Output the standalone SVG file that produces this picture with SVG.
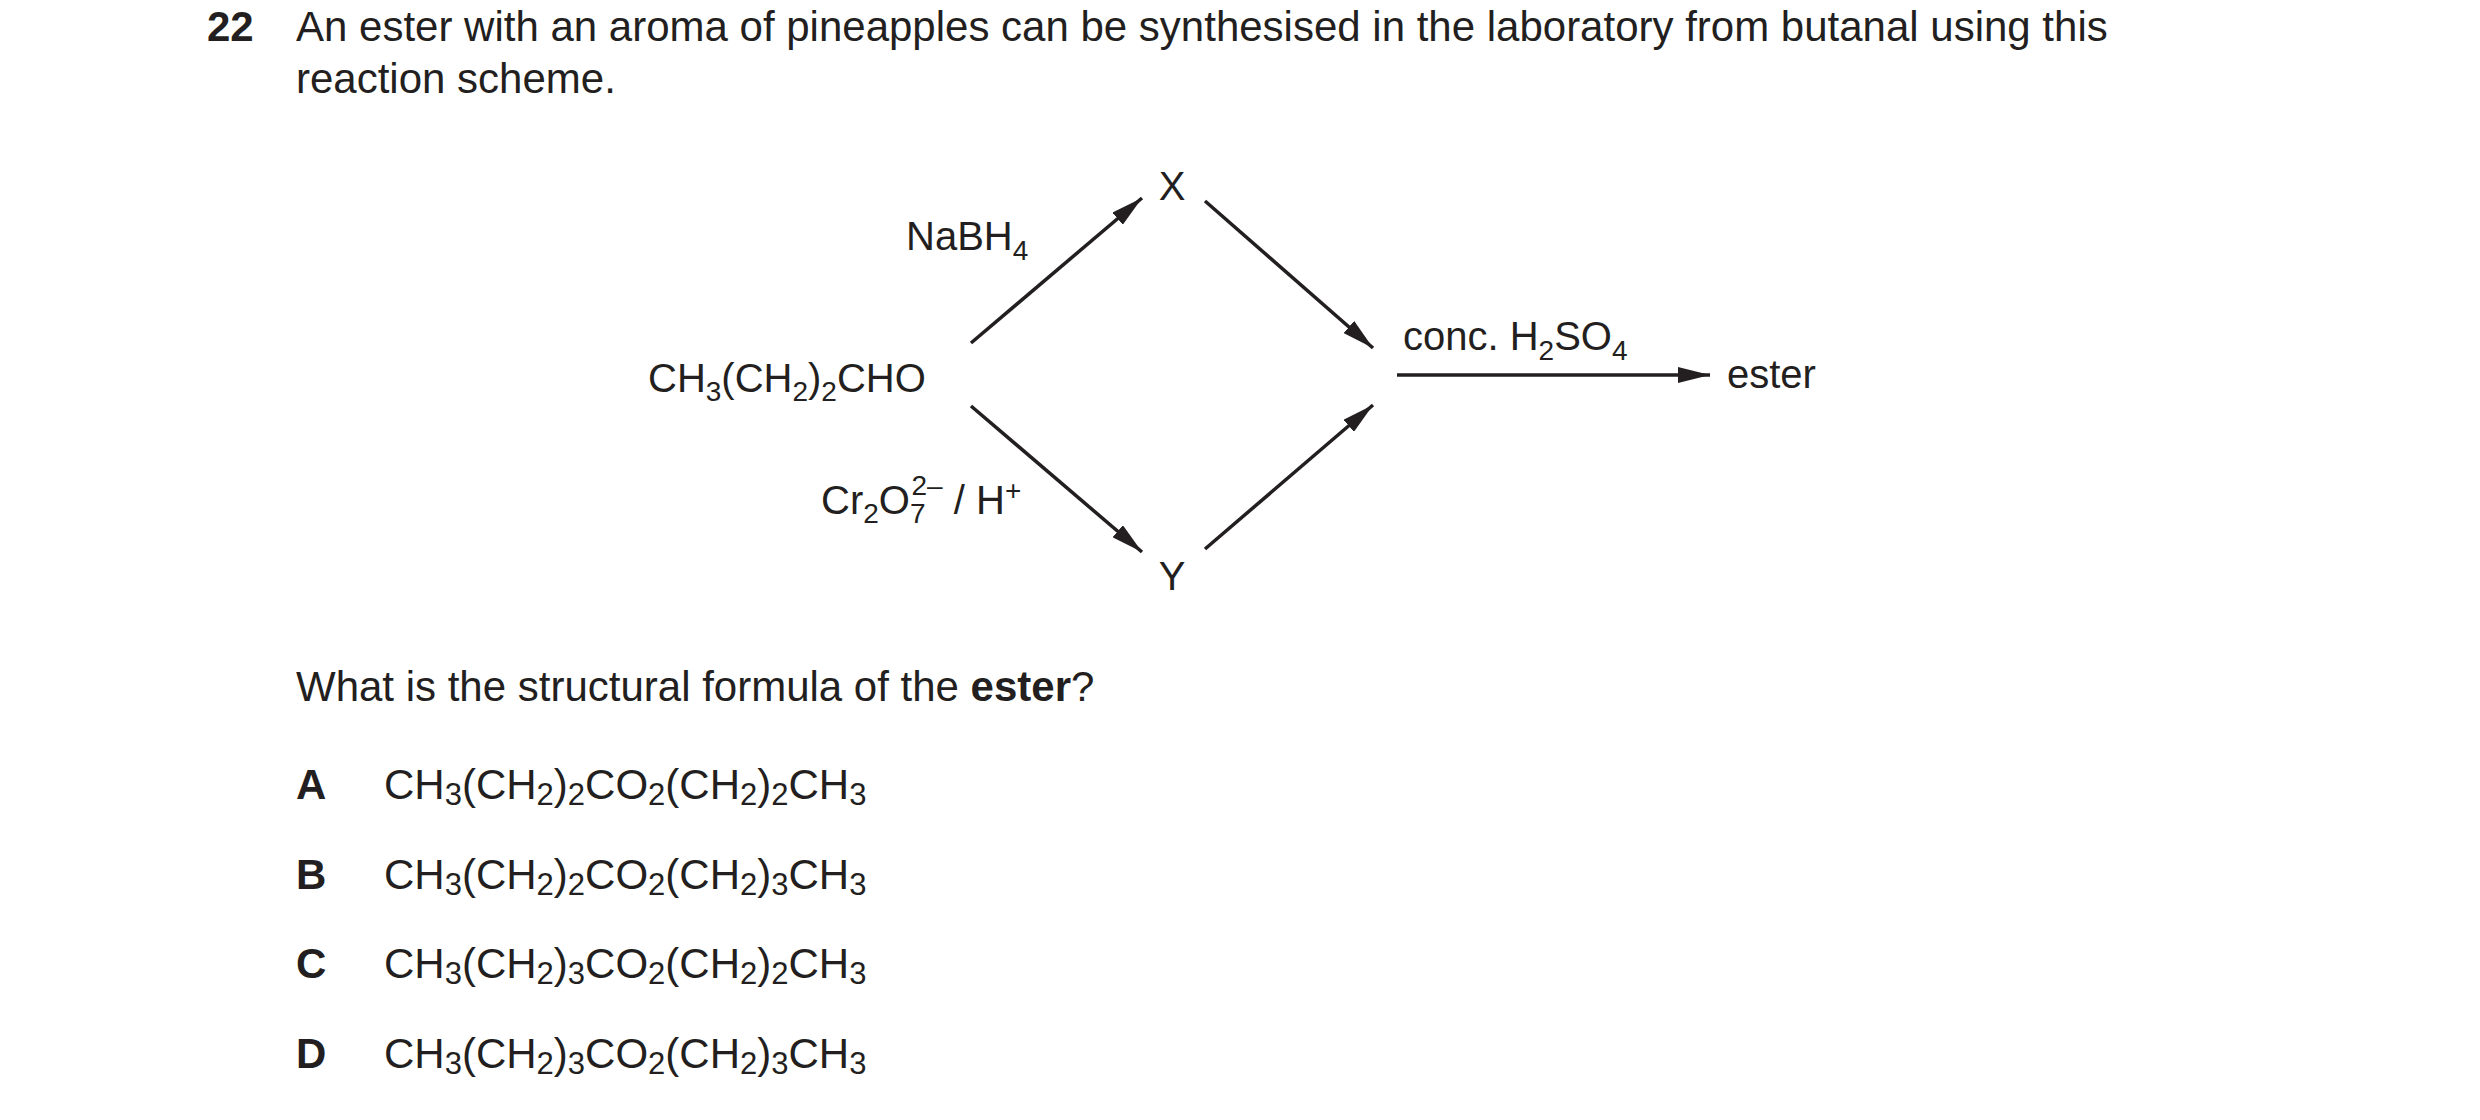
<svg xmlns="http://www.w3.org/2000/svg" width="2480" height="1120" viewBox="0 0 2480 1120">
<style>
text{font-family:"Liberation Sans",Arial,sans-serif;fill:#231f20}
.t{font-size:42px}
.d{font-size:40px}
.b{font-weight:bold}
.s{font-size:28px}
.o{font-size:31px}
line{stroke:#231f20;stroke-width:3.5}
</style>
<defs>
<marker id="ah" viewBox="0 0 10 10" refX="10" refY="5" markerWidth="10" markerHeight="10" markerUnits="userSpaceOnUse" orient="auto" style="overflow:visible">
<path d="M0,0 L10,5 L0,10 z" fill="#231f20" transform="scale(3.2,1.6) translate(-0,-2)"/>
</marker>
<marker id="a" viewBox="0 0 32 16" refX="32" refY="8" markerWidth="32" markerHeight="16" markerUnits="userSpaceOnUse" orient="auto">
<path d="M0,0 L32,8 L0,16 z" fill="#231f20"/>
</marker>
</defs>
<g id="question">
<text class="t b" x="207" y="41">22</text>
<text class="t" x="296" y="41">An ester with an aroma of pineapples can be synthesised in the laboratory from butanal using this</text>
<text class="t" x="296" y="93">reaction scheme.</text>
<text class="t" x="296" y="701">What is the structural formula of the <tspan class="b">ester</tspan>?</text>
</g>
<g id="butanal"><text class="d" x="648" y="392">CH<tspan class="s" dy="9">3</tspan><tspan dy="-9">(CH</tspan><tspan class="s" dy="9">2</tspan><tspan dy="-9">)</tspan><tspan class="s" dy="9">2</tspan><tspan dy="-9">CHO</tspan></text></g>
<g id="X"><text class="d" x="1172" y="200" text-anchor="middle">X</text></g>
<g id="Y"><text class="d" x="1172" y="590" text-anchor="middle">Y</text></g>
<g id="ester"><text class="d" x="1727" y="388">ester</text></g>
<g id="labels">
<text class="d" x="906" y="250">NaBH<tspan class="s" dy="10">4</tspan></text>
<text class="d" x="821" y="514">Cr<tspan class="s" dy="9">2</tspan><tspan dy="-9">O</tspan><tspan class="s" dy="9">7</tspan><tspan class="s" dx="-14" dy="-28">2–</tspan><tspan dy="19"> / H</tspan><tspan class="s" dy="-14">+</tspan></text>
<text class="d" x="1403" y="350">conc. H<tspan class="s" dy="10">2</tspan><tspan dy="-10">SO</tspan><tspan class="s" dy="10">4</tspan></text>
</g>
<g id="connectors">
<line x1="971" y1="343" x2="1142" y2="198" marker-end="url(#a)"/>
<line x1="1205" y1="201" x2="1373" y2="348" marker-end="url(#a)"/>
<line x1="971" y1="406" x2="1142" y2="552" marker-end="url(#a)"/>
<line x1="1205" y1="549" x2="1373" y2="405" marker-end="url(#a)"/>
<line x1="1397" y1="375" x2="1710" y2="375" marker-end="url(#a)"/>
</g>
<g id="options">
<text class="t b" x="296" y="799">A</text>
<text class="t" x="384" y="799">CH<tspan class="o" dy="6">3</tspan><tspan dy="-6">(CH</tspan><tspan class="o" dy="6">2</tspan><tspan dy="-6">)</tspan><tspan class="o" dy="6">2</tspan><tspan dy="-6">CO</tspan><tspan class="o" dy="6">2</tspan><tspan dy="-6">(CH</tspan><tspan class="o" dy="6">2</tspan><tspan dy="-6">)</tspan><tspan class="o" dy="6">2</tspan><tspan dy="-6">CH</tspan><tspan class="o" dy="6">3</tspan></text>
<text class="t b" x="296" y="889">B</text>
<text class="t" x="384" y="889">CH<tspan class="o" dy="6">3</tspan><tspan dy="-6">(CH</tspan><tspan class="o" dy="6">2</tspan><tspan dy="-6">)</tspan><tspan class="o" dy="6">2</tspan><tspan dy="-6">CO</tspan><tspan class="o" dy="6">2</tspan><tspan dy="-6">(CH</tspan><tspan class="o" dy="6">2</tspan><tspan dy="-6">)</tspan><tspan class="o" dy="6">3</tspan><tspan dy="-6">CH</tspan><tspan class="o" dy="6">3</tspan></text>
<text class="t b" x="296" y="978">C</text>
<text class="t" x="384" y="978">CH<tspan class="o" dy="6">3</tspan><tspan dy="-6">(CH</tspan><tspan class="o" dy="6">2</tspan><tspan dy="-6">)</tspan><tspan class="o" dy="6">3</tspan><tspan dy="-6">CO</tspan><tspan class="o" dy="6">2</tspan><tspan dy="-6">(CH</tspan><tspan class="o" dy="6">2</tspan><tspan dy="-6">)</tspan><tspan class="o" dy="6">2</tspan><tspan dy="-6">CH</tspan><tspan class="o" dy="6">3</tspan></text>
<text class="t b" x="296" y="1068">D</text>
<text class="t" x="384" y="1068">CH<tspan class="o" dy="6">3</tspan><tspan dy="-6">(CH</tspan><tspan class="o" dy="6">2</tspan><tspan dy="-6">)</tspan><tspan class="o" dy="6">3</tspan><tspan dy="-6">CO</tspan><tspan class="o" dy="6">2</tspan><tspan dy="-6">(CH</tspan><tspan class="o" dy="6">2</tspan><tspan dy="-6">)</tspan><tspan class="o" dy="6">3</tspan><tspan dy="-6">CH</tspan><tspan class="o" dy="6">3</tspan></text>
</g>
</svg>
